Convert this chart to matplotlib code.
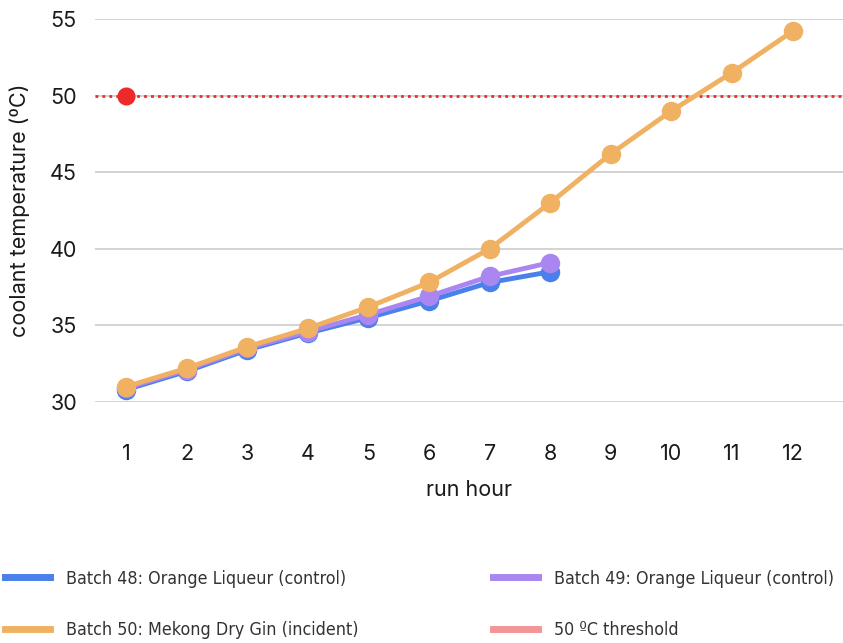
import matplotlib.pyplot as plt
from matplotlib.lines import Line2D
from matplotlib.font_manager import FontProperties

hours = [1, 2, 3, 4, 5, 6, 7, 8, 9, 10, 11, 12]
batch48 = [30.8, 32.0, 33.4, 34.5, 35.5, 36.6, 37.8, 38.5]
batch49 = [30.9, 32.1, 33.5, 34.6, 35.7, 36.9, 38.2, 39.1]
batch50 = [31.0, 32.2, 33.6, 34.8, 36.2, 37.8, 40.0, 43.0, 46.2, 49.0, 51.5, 54.2]
threshold = 50
yticks = [30, 35, 40, 45, 50, 55]

labels = ['Batch 48: Orange Liqueur (control)', 'Batch 49: Orange Liqueur (control)',
          'Batch 50: Mekong Dry Gin (incident)', '50 \u00baC threshold']

BLUE = '#4a80ec'
PURPLE = '#aa86f0'
ORANGE = '#f0b262'
RED = '#ec2a2a'
LIGHTRED = '#f29696'

plt.rcParams['font.family'] = ['Inter', 'DejaVu Sans']

fig = plt.figure(figsize=(8.43, 6.43), dpi=100)
ax = fig.add_axes([0.1127, 0.3748, 0.8873, 0.5957])

# threshold line + single marker at hour 1
ax.axhline(threshold, color=RED, lw=2, ls=(0, (1, 1.5)), zorder=2)
ax.plot([hours[0]], [threshold], 'o', color=RED, ms=12, zorder=5)

ax.plot(hours[:len(batch48)], batch48, '-o', color=BLUE, lw=3.5, ms=13, zorder=3)
ax.plot(hours[:len(batch49)], batch49, '-o', color=PURPLE, lw=3.5, ms=13, zorder=4)
ax.plot(hours, batch50, '-o', color=ORANGE, lw=3.5, ms=13, zorder=5)

ax.set_xlim(0.49, 12.83)
ax.set_ylim(30, 55)
ax.set_xticks(hours)
ax.set_yticks(yticks)
ax.tick_params(length=0, labelsize=15.5, colors='#1a1a1a')
ax.tick_params(axis='x', pad=30)
ax.tick_params(axis='y', pad=13)
ax.grid(axis='y', color='#cccccc', lw=1.2)
ax.set_axisbelow(True)
for s in ax.spines.values():
    s.set_visible(False)
for ln in ax.lines:
    ln.set_clip_on(False)

ax.set_xlabel('run hour', fontsize=15.5, color='#1a1a1a', labelpad=12)
ax.set_ylabel('coolant temperature (\u00baC)', fontsize=15.5, color='#1a1a1a', labelpad=14)

# legend, two columns placed separately
colors = [BLUE, PURPLE, ORANGE, LIGHTRED]
handles = [Line2D([], [], color=c, lw=5) for c in colors]
legfont = FontProperties(family='DejaVu Sans', stretch='condensed', size=12.8)
for col, x0 in ((0, 0.006), (1, 0.585)):
    hs = [handles[col], handles[col + 2]]
    ls = [labels[col], labels[col + 2]]
    fig.legend(hs, ls, loc='upper left', bbox_to_anchor=(x0, 0.114),
               frameon=False, prop=legfont, handlelength=2.55, handletextpad=0.9,
               labelspacing=1.9, borderpad=0, borderaxespad=0, labelcolor='#333333')

fig.savefig('out.png', dpi=100)
